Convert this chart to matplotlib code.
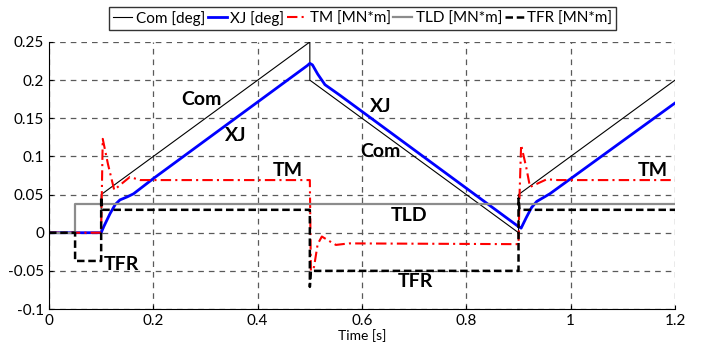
import matplotlib.pyplot as plt
from matplotlib.ticker import FormatStrFormatter

plt.rcParams['font.family'] = ['Lato', 'DejaVu Sans']

# Com [deg]
com_t = [0, 0.1, 0.1, 0.5, 0.5, 0.9, 0.9, 1.2]
com_v = [0, 0, 0.05, 0.25, 0.2, 0, 0.05, 0.2]

# XJ [deg]
xj_t = [0, 0.1, 0.105, 0.117, 0.127, 0.136, 0.15, 0.162, 0.2, 0.495, 0.5, 0.505, 0.515, 0.529, 0.558,
        0.9, 0.905, 0.915, 0.925, 0.935, 0.96, 1.2]
xj_v = [0, 0, 0.008, 0.025, 0.037, 0.043, 0.047, 0.051, 0.071, 0.219, 0.222, 0.22, 0.208, 0.194, 0.18,
        0.008, 0.006, 0.02, 0.033, 0.041, 0.051, 0.17]

# TM [MN*m]
tm_t = [0, 0.1, 0.103, 0.113, 0.125, 0.137, 0.155, 0.175, 0.5, 0.502, 0.508, 0.515,
        0.523, 0.535, 0.55, 0.575, 0.9, 0.902, 0.905, 0.915, 0.922, 0.935, 0.954, 0.975, 1.2]
tm_v = [0, 0, 0.123, 0.09, 0.056, 0.063, 0.073, 0.069, 0.069, -0.05, -0.045, -0.015,
        -0.005, -0.01, -0.016, -0.014, -0.015, 0.05, 0.115, 0.085, 0.06, 0.064, 0.07, 0.069, 0.069]

# TLD [MN*m]
tld_t = [0, 0.05, 0.05, 1.2]
tld_v = [0, 0, 0.037, 0.037]

# TFR [MN*m]
tfr_t = [0, 0.05, 0.05, 0.1, 0.1, 0.102, 0.5, 0.5, 0.502, 0.9, 0.9, 0.902, 1.2]
tfr_v = [0, 0, -0.037, -0.037, 0.047, 0.03, 0.03, -0.071, -0.05, -0.05, 0.045, 0.03, 0.03]

# curve annotations
labels = ["Com", "XJ", "TM", "TFR", "XJ", "Com", "TLD", "TFR", "TM"]
label_t = [0.293, 0.357, 0.458, 0.138, 0.636, 0.636, 0.690, 0.703, 1.158]
label_v = [0.174, 0.127, 0.082, -0.042, 0.165, 0.106, 0.023, -0.064, 0.082]

fig = plt.figure(figsize=(7.03, 3.47), dpi=100)
ax = fig.add_axes([0.0697, 0.1095, 0.8905, 0.7695])

ax.plot(com_t, com_v, color="black", lw=0.8, label="Com [deg]")
ax.plot(xj_t, xj_v, color="#0000ff", lw=2.0, label="XJ [deg]")
ax.plot(tm_t, tm_v, color="#ff0000", lw=1.5, ls=(0, (5, 2, 1, 2)), label="TM [MN*m]")
ax.plot(tld_t, tld_v, color="#8c8c8c", lw=1.6, label="TLD [MN*m]")
ax.plot(tfr_t, tfr_v, color="black", lw=1.8, ls=(0, (3, 1.5)), label="TFR [MN*m]")

for s, t, v in zip(labels, label_t, label_v):
    ax.text(t, v, s, fontsize=14, fontweight="bold", ha="center", va="center")

ax.set_xlim(0, 1.2)
ax.set_ylim(-0.1, 0.25)
ax.set_xticks([0, 0.2, 0.4, 0.6, 0.8, 1.0, 1.2])
ax.set_yticks([-0.1, -0.05, 0, 0.05, 0.1, 0.15, 0.2, 0.25])
ax.xaxis.set_major_formatter(FormatStrFormatter('%g'))
ax.yaxis.set_major_formatter(FormatStrFormatter('%g'))
ax.tick_params(direction="in", length=3, labelsize=11)
ax.grid(True, color="#5a5a5a", lw=0.9, ls=(0, (4.5, 4)))
ax.spines["top"].set_visible(False)
ax.spines["right"].set_visible(False)
ax.set_xlabel("Time [s]", fontsize=10, labelpad=1)

leg = fig.legend(loc="upper center", bbox_to_anchor=(0.516, 0.98), ncol=5,
                 fontsize=11, frameon=True, fancybox=False, edgecolor="black",
                 handlelength=1.25, handletextpad=0.25, columnspacing=0.15,
                 borderpad=0.25, borderaxespad=0)
leg.get_frame().set_linewidth(1.0)

fig.savefig("out.png", dpi=100)
